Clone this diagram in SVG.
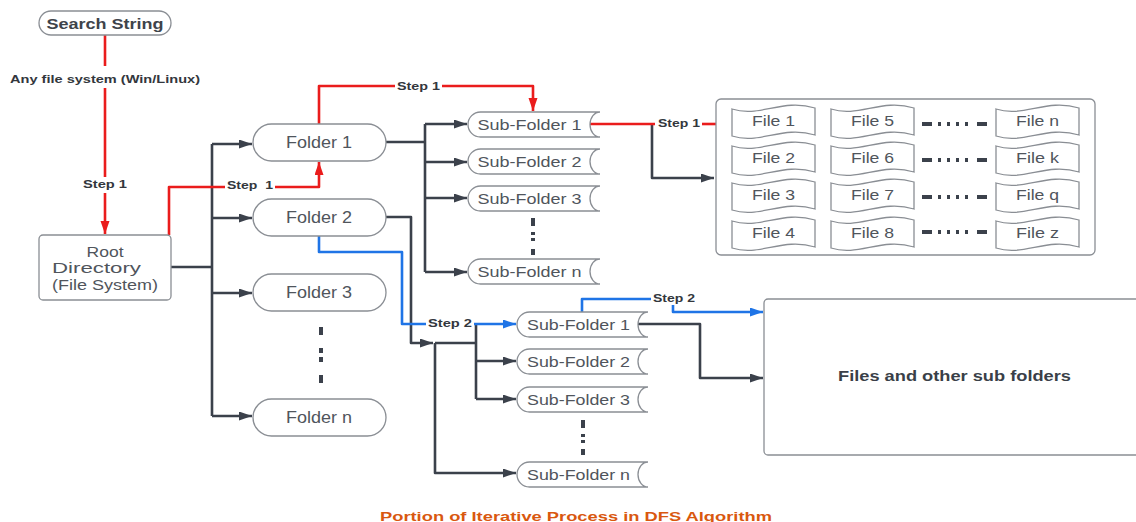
<svg xmlns="http://www.w3.org/2000/svg" xmlns:xlink="http://www.w3.org/1999/xlink" width="1136" height="522" viewBox="0 0 1136 522">
<style>
.node{fill:#fff;stroke:#8a8e94;stroke-width:1.3}
.t{font-family:"Liberation Sans",Arial,sans-serif;fill:#50555c;text-anchor:middle}
.lbl{font-family:"Liberation Sans",Arial,sans-serif;font-weight:bold;font-size:11px;fill:#33373d;text-anchor:middle}
.dk{fill:none;stroke:#3b414b;stroke-width:2.6;stroke-linejoin:round}
.rd{fill:none;stroke:#ea1c1c;stroke-width:2.6;stroke-linejoin:round}
.bl{fill:none;stroke:#1f74e6;stroke-width:2.6;stroke-linejoin:round}
.dots{fill:none;stroke:#3b414b;stroke-width:4}
</style>
<defs>
<marker id="ad" markerUnits="userSpaceOnUse" markerWidth="14" markerHeight="10" refX="13" refY="4.5" orient="auto"><path d="M0,0 L13,4.5 L0,9 z" fill="#3b414b"/></marker>
<marker id="ar" markerUnits="userSpaceOnUse" markerWidth="14" markerHeight="10" refX="13" refY="4.5" orient="auto"><path d="M0,0 L13,4.5 L0,9 z" fill="#ea1c1c"/></marker>
<marker id="ab" markerUnits="userSpaceOnUse" markerWidth="14" markerHeight="10" refX="13" refY="4.5" orient="auto"><path d="M0,0 L13,4.5 L0,9 z" fill="#1f74e6"/></marker>
<path id="doc" d="M0,3 C28,12 50,-8 83,2 V29 C50,19 28,39 0,30 Z"/>
</defs>

<g id="connectors">
<!-- search -> root -->
<path class="rd" d="M105,34 V66"/>
<path class="rd" d="M105,88 V177"/>
<path class="rd" d="M105,193 V234" marker-end="url(#ar)"/>
<!-- root bus -->
<path class="dk" d="M171,267 H212"/>
<path class="dk" d="M212,144 V416"/>
<path class="dk" d="M212,144 H252" marker-end="url(#ad)"/>
<path class="dk" d="M212,218 H252" marker-end="url(#ad)"/>
<path class="dk" d="M212,293 H252" marker-end="url(#ad)"/>
<path class="dk" d="M212,416 H252" marker-end="url(#ad)"/>
<!-- red root -> folder1 -->
<path class="rd" d="M169,235 V187 H225"/>
<path class="rd" d="M275,187 H319 V162" marker-end="url(#ar)"/>
<!-- red folder1 -> subfolder1 -->
<path class="rd" d="M319,124 V86 H395"/>
<path class="rd" d="M442,86 H533 V111" marker-end="url(#ar)"/>
<!-- folder1 bus -->
<path class="dk" d="M386,142 H425"/>
<path class="dk" d="M425,124 V272"/>
<path class="dk" d="M425,124 H467" marker-end="url(#ad)"/>
<path class="dk" d="M425,162 H467" marker-end="url(#ad)"/>
<path class="dk" d="M425,198 H467" marker-end="url(#ad)"/>
<path class="dk" d="M425,272 H467" marker-end="url(#ad)"/>
<!-- subfolder1 -> files -->
<path class="dk" d="M652,124 V178 H714" marker-end="url(#ad)"/>
<path class="rd" d="M590,124 H655"/>
<path class="rd" d="M702,124 H731" marker-end="url(#ar)"/>
<!-- folder2 bus -->
<path class="dk" d="M386,217 H411 V343 H433" marker-end="url(#ad)"/>
<path class="dk" d="M435,343 V473 H516" marker-end="url(#ad)"/>
<path class="dk" d="M435,343 H476"/>
<path class="dk" d="M476,324 V399"/>
<path class="dk" d="M476,361 H516" marker-end="url(#ad)"/>
<path class="dk" d="M476,399 H516" marker-end="url(#ad)"/>
<!-- blue folder2 -> subfolder1 -->
<path class="bl" d="M319,236 V252 H402 V324 H426"/>
<path class="bl" d="M474,324 H516" marker-end="url(#ab)"/>
<!-- blue subfolder1 -> files box -->
<path class="bl" d="M582,312 V299 H651"/>
<path class="bl" d="M673,305 V312 H763" marker-end="url(#ab)"/>
<path class="dk" d="M638,324 H700 V378 H763" marker-end="url(#ad)"/>
</g>

<g id="labels">
<text class="lbl" x="105" y="83" textLength="190" lengthAdjust="spacingAndGlyphs">Any file system (Win/Linux)</text>
<text class="lbl" x="105" y="188" textLength="44" lengthAdjust="spacingAndGlyphs">Step 1</text>
<text class="lbl" x="250" y="189" textLength="46" lengthAdjust="spacingAndGlyphs" xml:space="preserve">Step  1</text>
<text class="lbl" x="418.5" y="90" textLength="43" lengthAdjust="spacingAndGlyphs">Step 1</text>
<text class="lbl" x="679" y="127" textLength="42" lengthAdjust="spacingAndGlyphs">Step 1</text>
<text class="lbl" x="450" y="327" textLength="44" lengthAdjust="spacingAndGlyphs">Step 2</text>
<text class="lbl" x="674" y="302" textLength="42" lengthAdjust="spacingAndGlyphs">Step 2</text>
</g>

<g id="search-string">
<rect class="node" x="39" y="11" width="132" height="24" rx="12"/>
<text class="t" x="105" y="28.5" font-size="15.5" font-weight="bold" fill="#3e434a" style="fill:#3e434a" textLength="117" lengthAdjust="spacingAndGlyphs">Search String</text>
</g>

<g id="root-directory">
<rect class="node" x="39" y="235" width="132" height="65" rx="4"/>
<text class="t" font-size="14" x="105" y="257" textLength="37" lengthAdjust="spacingAndGlyphs">Root</text>
<text class="t" font-size="14" x="96.5" y="273" textLength="89" lengthAdjust="spacingAndGlyphs">Directory</text>
<text class="t" font-size="14" x="105" y="290" textLength="106" lengthAdjust="spacingAndGlyphs">(File System)</text>
</g>

<g id="folder-1"><rect class="node" x="253" y="124" width="133" height="37" rx="18.5"/><text class="t" font-size="16" x="319" y="148" textLength="66" lengthAdjust="spacingAndGlyphs">Folder 1</text></g>
<g id="folder-2"><rect class="node" x="253" y="199" width="133" height="37" rx="18.5"/><text class="t" font-size="16" x="319" y="223" textLength="66" lengthAdjust="spacingAndGlyphs">Folder 2</text></g>
<g id="folder-3"><rect class="node" x="253" y="274" width="133" height="37" rx="18.5"/><text class="t" font-size="16" x="319" y="298" textLength="66" lengthAdjust="spacingAndGlyphs">Folder 3</text></g>
<g id="folder-dots"><path class="dots" d="M321,327 V383" stroke-dasharray="8 13 5 4 5 13 8"/></g>
<g id="folder-n"><rect class="node" x="253" y="399" width="133" height="37" rx="18.5"/><text class="t" font-size="16" x="319" y="423" textLength="66" lengthAdjust="spacingAndGlyphs">Folder n</text></g>

<g id="sf1-1"><path class="node" d="M480.5,112 H600 A10,12.5 0 0 0 600,137 H480.5 A12.5,12.5 0 0 1 480.5,112 Z"/><text class="t" font-size="15.5" x="529.5" y="130" textLength="104" lengthAdjust="spacingAndGlyphs">Sub-Folder 1</text></g>
<g id="sf1-2"><path class="node" d="M480.5,149 H600 A10,12.5 0 0 0 600,174 H480.5 A12.5,12.5 0 0 1 480.5,149 Z"/><text class="t" font-size="15.5" x="529.5" y="167" textLength="104" lengthAdjust="spacingAndGlyphs">Sub-Folder 2</text></g>
<g id="sf1-3"><path class="node" d="M480.5,186 H600 A10,12.5 0 0 0 600,211 H480.5 A12.5,12.5 0 0 1 480.5,186 Z"/><text class="t" font-size="15.5" x="529.5" y="204" textLength="104" lengthAdjust="spacingAndGlyphs">Sub-Folder 3</text></g>
<g id="sf1-dots"><path class="dots" d="M533,218 V255" stroke-dasharray="8 6 3 3 3 8 6"/></g>
<g id="sf1-n"><path class="node" d="M480.5,259 H600 A10,12.5 0 0 0 600,284 H480.5 A12.5,12.5 0 0 1 480.5,259 Z"/><text class="t" font-size="15.5" x="529.5" y="277" textLength="104" lengthAdjust="spacingAndGlyphs">Sub-Folder n</text></g>

<g id="sf2-1"><path class="node" d="M529.5,312 H648 A10,12.5 0 0 0 648,337 H529.5 A12.5,12.5 0 0 1 529.5,312 Z"/><text class="t" font-size="15.5" x="578.5" y="330" textLength="103" lengthAdjust="spacingAndGlyphs">Sub-Folder 1</text></g>
<g id="sf2-2"><path class="node" d="M529.5,349 H648 A10,12.5 0 0 0 648,374 H529.5 A12.5,12.5 0 0 1 529.5,349 Z"/><text class="t" font-size="15.5" x="578.5" y="367" textLength="103" lengthAdjust="spacingAndGlyphs">Sub-Folder 2</text></g>
<g id="sf2-3"><path class="node" d="M529.5,387 H648 A10,12.5 0 0 0 648,412 H529.5 A12.5,12.5 0 0 1 529.5,387 Z"/><text class="t" font-size="15.5" x="578.5" y="405" textLength="103" lengthAdjust="spacingAndGlyphs">Sub-Folder 3</text></g>
<g id="sf2-dots"><path class="dots" d="M583,420 V455" stroke-dasharray="8 6 3 3 3 6 6"/></g>
<g id="sf2-n"><path class="node" d="M529.5,462 H648 A10,12.5 0 0 0 648,487 H529.5 A12.5,12.5 0 0 1 529.5,462 Z"/><text class="t" font-size="15.5" x="578.5" y="480" textLength="103" lengthAdjust="spacingAndGlyphs">Sub-Folder n</text></g>

<g id="files-container">
<rect class="node" x="716" y="99" width="379" height="156" rx="5"/>
<g id="file-1"><use xlink:href="#doc" class="node" x="732" y="106"/><text class="t" font-size="14" x="773.5" y="126" textLength="43" lengthAdjust="spacingAndGlyphs">File 1</text></g>
<g id="file-2"><use xlink:href="#doc" class="node" x="732" y="143"/><text class="t" font-size="14" x="773.5" y="163" textLength="43" lengthAdjust="spacingAndGlyphs">File 2</text></g>
<g id="file-3"><use xlink:href="#doc" class="node" x="732" y="180"/><text class="t" font-size="14" x="773.5" y="200" textLength="43" lengthAdjust="spacingAndGlyphs">File 3</text></g>
<g id="file-4"><use xlink:href="#doc" class="node" x="732" y="218"/><text class="t" font-size="14" x="773.5" y="238" textLength="43" lengthAdjust="spacingAndGlyphs">File 4</text></g>
<g id="file-5"><use xlink:href="#doc" class="node" x="831" y="106"/><text class="t" font-size="14" x="872.5" y="126" textLength="43" lengthAdjust="spacingAndGlyphs">File 5</text></g>
<g id="file-6"><use xlink:href="#doc" class="node" x="831" y="143"/><text class="t" font-size="14" x="872.5" y="163" textLength="43" lengthAdjust="spacingAndGlyphs">File 6</text></g>
<g id="file-7"><use xlink:href="#doc" class="node" x="831" y="180"/><text class="t" font-size="14" x="872.5" y="200" textLength="43" lengthAdjust="spacingAndGlyphs">File 7</text></g>
<g id="file-8"><use xlink:href="#doc" class="node" x="831" y="218"/><text class="t" font-size="14" x="872.5" y="238" textLength="43" lengthAdjust="spacingAndGlyphs">File 8</text></g>
<g id="file-n"><use xlink:href="#doc" class="node" x="996" y="106"/><text class="t" font-size="14" x="1037.5" y="126" textLength="43" lengthAdjust="spacingAndGlyphs">File n</text></g>
<g id="file-k"><use xlink:href="#doc" class="node" x="996" y="143"/><text class="t" font-size="14" x="1037.5" y="163" textLength="43" lengthAdjust="spacingAndGlyphs">File k</text></g>
<g id="file-q"><use xlink:href="#doc" class="node" x="996" y="180"/><text class="t" font-size="14" x="1037.5" y="200" textLength="43" lengthAdjust="spacingAndGlyphs">File q</text></g>
<g id="file-z"><use xlink:href="#doc" class="node" x="996" y="218"/><text class="t" font-size="14" x="1037.5" y="238" textLength="43" lengthAdjust="spacingAndGlyphs">File z</text></g>
<g id="file-dashes">
<path class="dots" stroke-width="3.5" stroke-dasharray="10 6 3 6 3 6 3 6 3 9 10" d="M922,124 H987 M922,160 H987 M922,197 H987 M922,232 H987"/>
</g>
</g>

<g id="files-and-other-sub-folders">
<rect class="node" x="764" y="299" width="380" height="156" rx="4"/>
<text class="t" font-size="15" font-weight="bold" style="fill:#3a3f48" x="954.5" y="381" textLength="233" lengthAdjust="spacingAndGlyphs">Files and other sub folders</text>
</g>

<text id="caption" class="t" font-size="13" font-weight="bold" style="fill:#d9580f" x="576" y="521" textLength="392" lengthAdjust="spacingAndGlyphs">Portion of Iterative Process in DFS Algorithm</text>
</svg>
